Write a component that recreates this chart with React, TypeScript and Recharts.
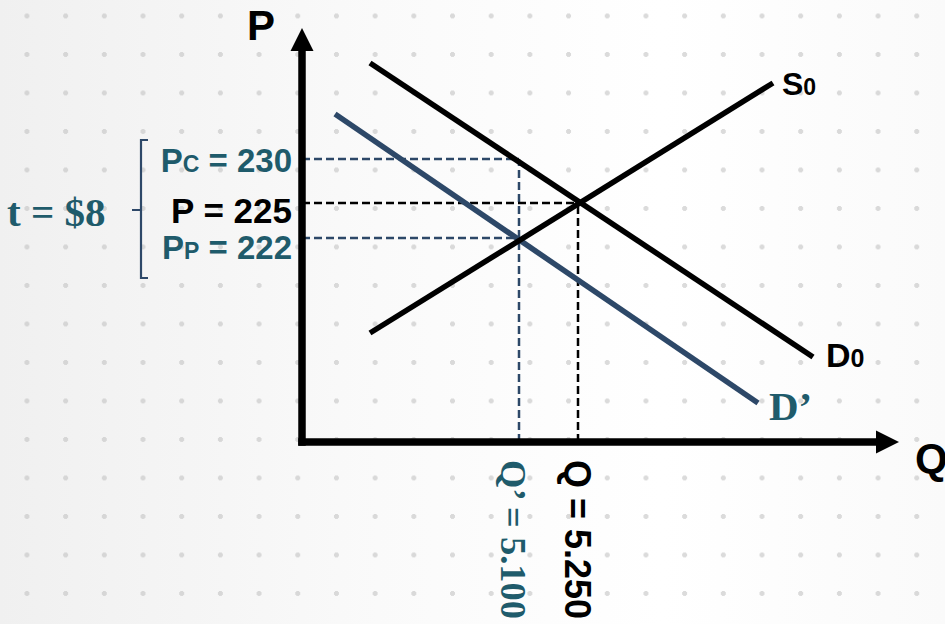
import React from 'react';
import {
  ComposedChart,
  Line,
  XAxis,
  YAxis,
  ReferenceLine,
  ReferenceDot,
} from 'recharts';

// units: 1 unit = 10px on both axes, origin at the axes corner
const supplyS0 = [
  { q: 6.8, p: 10.9 },
  { q: 47.1, p: 35.9 },
];
const demandD0 = [
  { q: 6.8, p: 37.9 },
  { q: 51.1, p: 8.5 },
];
const demandD1 = [
  { q: 3.3, p: 32.8 },
  { q: 45.6, p: 3.9 },
];

// Pc, P, Pp
const priceLevels = [28.3, 23.9, 20.4];
const priceLabels = [
  { main: 'P', sub: 'C', rest: ' = 230' },
  { main: 'P', sub: '', rest: ' = 225' },
  { main: 'P', sub: 'P', rest: ' = 222' },
];
// Q', Q
const quantityLevels = [21.7, 27.6];
const quantityLabels = ['Q’ = 5.100', 'Q = 5.250'];
const taxLabel = 't = $8';

const X_MAX = 60;
const Y_MAX = 42;
const axisTip = { q: 59.7, p: 41.4 };

const TEAL = '#1f5b6b';
const NAVY = '#2d4868';
const SANS = '"Liberation Sans", Arial, sans-serif';
const SERIF = '"Liberation Serif", "Times New Roman", serif';

// eslint-disable-next-line @typescript-eslint/no-explicit-any
function PriceTick({ y, index }: any) {
  const item = priceLabels[index];
  const mid = index === 1;
  const color = mid ? '#000' : TEAL;
  const size = mid ? 35 : 33;
  const dy = [13, 20, 21][index];
  return (
    <g>
      <text
        x={292}
        y={y + dy}
        textAnchor="end"
        fill={color}
        fontFamily={SANS}
        fontWeight="bold"
        style={{ whiteSpace: 'pre' }}
      >
        <tspan fontSize={size}>{item.main}</tspan>
        {item.sub && <tspan fontSize={23}>{item.sub}</tspan>}
        <tspan fontSize={size}>{item.rest}</tspan>
      </text>
      {mid && (
        <g>
          <path
            d={`M148 ${y - 63} H141 V${y + 75} H148 M141 ${y + 7} H132`}
            fill="none"
            stroke={NAVY}
            strokeWidth={2.2}
          />
          <text
            x={7}
            y={y + 23}
            fill={TEAL}
            fontFamily={SERIF}
            fontWeight="bold"
            fontSize={41}
            style={{ whiteSpace: 'pre' }}
          >
            {taxLabel}
          </text>
        </g>
      )}
    </g>
  );
}

// eslint-disable-next-line @typescript-eslint/no-explicit-any
function QuantityTick({ x, index }: any) {
  const teal = index === 0;
  const bx = teal ? x - 18 : x - 13;
  const by = 460;
  return (
    <text
      x={bx}
      y={by}
      transform={`rotate(90 ${bx} ${by})`}
      fill={teal ? TEAL : '#000'}
      fontFamily={teal ? SERIF : SANS}
      fontWeight="bold"
      fontSize={teal ? 36.5 : 36}
      style={{ whiteSpace: 'pre' }}
    >
      {quantityLabels[index]}
    </text>
  );
}

// eslint-disable-next-line @typescript-eslint/no-explicit-any
const arrowUp = ({ cx, cy }: any) => (
  <path d={`M${cx} ${cy} L${cx + 11.5} ${cy + 23} L${cx - 11.5} ${cy + 23} Z`} fill="#000" />
);
// eslint-disable-next-line @typescript-eslint/no-explicit-any
const arrowRight = ({ cx, cy }: any) => (
  <path d={`M${cx} ${cy} L${cx - 23} ${cy - 11.5} L${cx - 23} ${cy + 11.5} Z`} fill="#000" />
);

function curveLabel(main: string, sub: string, dx: number, dy: number, opts: { size: number; subSize: number; color: string; font: string }) {
  // eslint-disable-next-line @typescript-eslint/no-explicit-any
  return ({ cx, cy }: any) => (
    <text
      x={cx + dx}
      y={cy + dy}
      fill={opts.color}
      fontFamily={opts.font}
      fontWeight="bold"
      style={{ whiteSpace: 'pre' }}
    >
      <tspan fontSize={opts.size}>{main}</tspan>
      {sub && <tspan fontSize={opts.subSize}>{sub}</tspan>}
    </text>
  );
}

const bg: React.CSSProperties = {
  position: 'absolute',
  left: 0,
  top: 0,
  width: 945,
  height: 624,
  overflow: 'hidden',
  backgroundColor: '#fbfbfb',
  backgroundImage:
    'radial-gradient(circle, rgba(195,195,195,0.6) 2.2px, transparent 2.8px), linear-gradient(90deg, #f0f0f0 0%, #fafafa 40%, #ffffff 70%, #fafafa 100%)',
  backgroundSize: '38.7px 38.5px, 100% 100%',
  backgroundPosition: '7.6px -3.3px, 0 0',
};

const dash = { strokeWidth: 2.5, strokeDasharray: '8 4' };

export default function App() {
  const [pc, p0, pp] = priceLevels;
  const [q1, q0] = quantityLevels;
  return (
    <div style={bg}>
      <ComposedChart
        width={945}
        height={624}
        margin={{ top: 22, right: 43, left: 292, bottom: 172 }}
      >
        <XAxis
          type="number"
          dataKey="q"
          domain={[0, X_MAX]}
          ticks={quantityLevels}
          tick={<QuantityTick />}
          axisLine={false}
          tickLine={false}
          height={10}
          allowDataOverflow
        />
        <YAxis
          type="number"
          dataKey="p"
          domain={[0, Y_MAX]}
          ticks={priceLevels}
          tick={<PriceTick />}
          axisLine={false}
          tickLine={false}
          width={10}
          allowDataOverflow
        />

        {/* dashed guide lines */}
        <ReferenceLine segment={[{ x: 0, y: pc }, { x: q1, y: pc }]} stroke={NAVY} {...dash} />
        <ReferenceLine segment={[{ x: 0, y: pp }, { x: q1, y: pp }]} stroke={NAVY} {...dash} />
        <ReferenceLine segment={[{ x: q1, y: 0 }, { x: q1, y: pc }]} stroke={NAVY} {...dash} />
        <ReferenceLine segment={[{ x: 0, y: p0 }, { x: q0, y: p0 }]} stroke="#000" {...dash} />
        <ReferenceLine segment={[{ x: q0, y: 0 }, { x: q0, y: p0 }]} stroke="#000" {...dash} />

        <Line data={demandD1} dataKey="p" type="linear" stroke={NAVY} strokeWidth={5.5} dot={false} isAnimationActive={false} />
        <Line data={demandD0} dataKey="p" type="linear" stroke="#000" strokeWidth={5.5} dot={false} isAnimationActive={false} />
        <Line data={supplyS0} dataKey="p" type="linear" stroke="#000" strokeWidth={5.5} dot={false} isAnimationActive={false} />

        {/* axes with arrow heads */}
        <ReferenceLine segment={[{ x: 0, y: 0 }, { x: 0, y: axisTip.p - 2 }]} stroke="#000" strokeWidth={7.5} strokeLinecap="square" />
        <ReferenceLine segment={[{ x: 0, y: 0 }, { x: axisTip.q - 2, y: 0 }]} stroke="#000" strokeWidth={7.5} strokeLinecap="square" />
        <ReferenceDot x={0} y={axisTip.p} r={0} shape={arrowUp} />
        <ReferenceDot x={axisTip.q} y={0} r={0} shape={arrowRight} />

        {/* axis titles and curve names */}
        <ReferenceDot
          x={0}
          y={axisTip.p}
          r={0}
          shape={curveLabel('P', '', -55, 12, { size: 42, subSize: 0, color: '#000', font: SANS })}
        />
        <ReferenceDot
          x={axisTip.q}
          y={0}
          r={0}
          shape={curveLabel('Q', '', 16, 31, { size: 42, subSize: 0, color: '#000', font: SANS })}
        />
        <ReferenceDot
          x={supplyS0[1].q}
          y={supplyS0[1].p}
          r={0}
          shape={curveLabel('S', '0', 9, 12, { size: 32, subSize: 23, color: '#000', font: SANS })}
        />
        <ReferenceDot
          x={demandD0[1].q}
          y={demandD0[1].p}
          r={0}
          shape={curveLabel('D', '0', 13, 10, { size: 34, subSize: 25, color: '#000', font: SANS })}
        />
        <ReferenceDot
          x={demandD1[1].q}
          y={demandD1[1].p}
          r={0}
          shape={curveLabel('D’', '', 11, 17, { size: 41, subSize: 0, color: TEAL, font: SERIF })}
        />
      </ComposedChart>
    </div>
  );
}
